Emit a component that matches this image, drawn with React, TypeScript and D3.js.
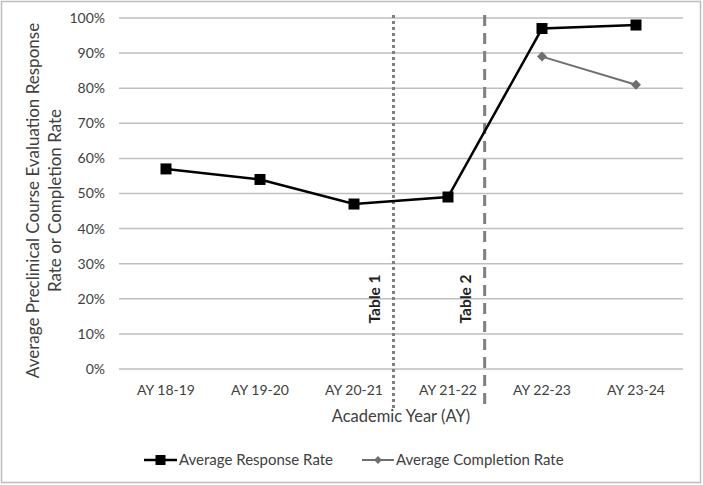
import React from "react";
import * as d3 from "d3";

const categories = ["AY 18-19", "AY 19-20", "AY 20-21", "AY 21-22", "AY 22-23", "AY 23-24"];
const responseRate = [57, 54, 47, 49, 97, 98];
const completionCats = ["AY 22-23", "AY 23-24"];
const completionRate = [89, 81];
const yTicks = [0, 10, 20, 30, 40, 50, 60, 70, 80, 90, 100];
const dividers = [
  { label: "Table 1", after: "AY 20-21", offset: 0.42, style: "dotted" },
  { label: "Table 2", after: "AY 21-22", offset: 0.39, style: "dashed" },
];

const W = 703, H = 485;
const FONT = "Lato, 'Open Sans', sans-serif";

export default function App() {
  const left = 119, right = 683, top = 18, bottom = 369;
  const x = d3.scaleBand().domain(categories).range([left, right]);
  const cx = (c: string) => (x(c) as number) + x.bandwidth() / 2;
  const y = d3.scaleLinear().domain([0, 100]).range([bottom, top]);
  const line = d3.line<[number, number]>().x((d) => d[0]).y((d) => d[1]);
  const respPts: [number, number][] = categories.map((c, i) => [cx(c), y(responseRate[i])]);
  const compPts: [number, number][] = completionCats.map((c, i) => [cx(c), y(completionRate[i])]);
  const sq = 11, dm = 5;
  const diamond = (px: number, py: number, s: number) =>
    `M${px},${py - s}L${px + s},${py}L${px},${py + s}L${px - s},${py}Z`;

  return (
    <svg width={W} height={H} style={{ position: "absolute", left: 0, top: 0, fontFamily: FONT }}>
      <rect x={0} y={0} width={W} height={H} fill="#fff" />
      <rect x={1.5} y={1.5} width={699} height={481} fill="none" stroke="#bdbdbd" strokeWidth={1.5} />
      {yTicks.map((t) => (
        <g key={t}>
          <line x1={left} x2={right} y1={y(t)} y2={y(t)} stroke="#bfbfbf" strokeWidth={1.5} />
          <text x={105} y={y(t)} dy="0.35em" textAnchor="end" fontSize={14} fill="#404040">
            {t}%
          </text>
        </g>
      ))}
      {categories.map((c) => (
        <text key={c} x={cx(c)} y={390} dy="0.35em" textAnchor="middle" fontSize={14} fill="#404040">
          {c}
        </text>
      ))}
      <text x={(left + right) / 2} y={416} dy="0.35em" textAnchor="middle" fontSize={16.5} fill="#404040">
        Academic Year (AY)
      </text>
      <text transform={`translate(33,${(top + bottom) / 2 + 7}) rotate(-90)`} textAnchor="middle" dy="0.35em" fontSize={17} fill="#404040">
        Average Preclinical Course Evaluation Response
      </text>
      <text transform={`translate(55,${(top + bottom) / 2 + 7}) rotate(-90)`} textAnchor="middle" dy="0.35em" fontSize={17} fill="#404040">
        Rate or Completion Rate
      </text>
      {dividers.map((d) => {
        const xv = (x(d.after) as number) + x.bandwidth() / 2 + x.bandwidth() * d.offset;
        return (
          <g key={d.label}>
            <line
              x1={xv}
              x2={xv}
              y1={15}
              y2={408}
              stroke="#7f7f7f"
              strokeWidth={3}
              strokeDasharray={d.style === "dotted" ? "3,3" : "11,7"}
            />
            <text
              transform={`translate(${xv - 19},299) rotate(-90)`}
              textAnchor="middle"
              dy="0.35em"
              fontSize={15.5}
              fontWeight="bold"
              fill="#222"
            >
              {d.label}
            </text>
          </g>
        );
      })}
      <path d={line(respPts) as string} fill="none" stroke="#000" strokeWidth={2.5} />
      {respPts.map((p, i) => (
        <rect key={i} x={p[0] - sq / 2} y={p[1] - sq / 2} width={sq} height={sq} fill="#000" />
      ))}
      <path d={line(compPts) as string} fill="none" stroke="#6f6f6f" strokeWidth={2} />
      {compPts.map((p, i) => (
        <path key={i} d={diamond(p[0], p[1], dm)} fill="#6f6f6f" />
      ))}
      {/* Legend */}
      <g>
        <line x1={144} x2={177} y1={460} y2={460} stroke="#000" strokeWidth={2.5} />
        <rect x={160.5 - 5} y={460 - 5} width={10} height={10} fill="#000" />
        <text x={179} y={460} dy="0.35em" fontSize={15} fill="#404040">Average Response Rate</text>
        <line x1={362} x2={394} y1={460} y2={460} stroke="#6f6f6f" strokeWidth={2} />
        <path d={diamond(378, 460, 4)} fill="#6f6f6f" />
        <text x={396} y={460} dy="0.35em" fontSize={15} fill="#404040">Average Completion Rate</text>
      </g>
    </svg>
  );
}
